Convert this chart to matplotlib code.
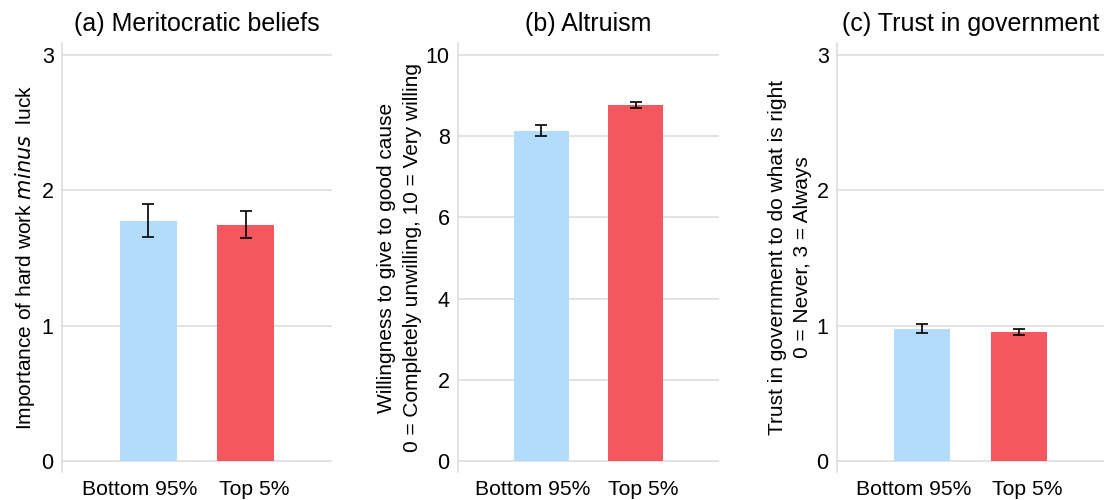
import matplotlib
matplotlib.use("Agg")
import matplotlib.pyplot as plt

plt.rcParams['font.family'] = ['Liberation Sans', 'DejaVu Sans']

groups = ["Bottom 95%", "Top 5%"]
colors = ["#B3DCFC", "#F4585E"]

titles = ["(a) Meritocratic beliefs", "(b) Altruism", "(c) Trust in government"]
ylabels = [
    "Importance of hard work $\\it{minus}$  luck",
    "Willingness to give to good cause\n0 = Completely unwilling, 10 = Very willing",
    "Trust in government to do what is right\n0 = Never, 3 = Always",
]

merit_means = [1.775, 1.745]
merit_err = [0.12, 0.10]
altruism_means = [8.13, 8.76]
altruism_err = [0.14, 0.08]
trust_means = [0.978, 0.953]
trust_err = [0.035, 0.025]

means = [merit_means, altruism_means, trust_means]
errs = [merit_err, altruism_err, trust_err]
yticks = [[0, 1, 2, 3], [0, 2, 4, 6, 8, 10], [0, 1, 2, 3]]
ymax = [3, 10, 3]

fig = plt.figure(figsize=(11.07, 5.0), dpi=100)
W, H = 1107, 500
lefts = [62, 458, 837]
widths = [270, 261, 267]
for i in range(3):
    ax = fig.add_axes([lefts[i] / W, 28 / H, widths[i] / W, (472 - 43) / H])
    x = [0, 1]
    ax.bar(x, means[i], width=0.585, color=colors, zorder=2)
    ax.errorbar(x, means[i], yerr=errs[i], fmt='none', ecolor='black',
                elinewidth=1.2, capsize=4, capthick=1.2, zorder=3)
    top = ymax[i]
    ax.set_ylim(-0.027 * top, top * 1.029)
    ax.set_xlim(-0.885, 1.885)
    ax.set_yticks(yticks[i])
    # category labels sit slightly outside the bar centres
    ax.set_xticks([-0.088, 1.085])
    ax.set_xticklabels(groups)
    ax.yaxis.grid(True, color='#DDDDDD', linewidth=1.2, zorder=0)
    ax.set_axisbelow(True)
    for s in ['top', 'right', 'bottom']:
        ax.spines[s].set_visible(False)
    ax.spines['left'].set_color('#DDDDDD')
    ax.spines['left'].set_linewidth(1.2)
    ax.tick_params(axis='both', length=0, colors='black')
    ax.tick_params(axis='x', pad=6, labelsize=15.2)
    ax.tick_params(axis='y', pad=6, labelsize=15.5)
    ax.set_title(titles[i], fontsize=18, pad=9)
    ax.set_ylabel(ylabels[i], fontsize=15, labelpad=3, linespacing=1.45)

fig.savefig("out.png", dpi=100)
